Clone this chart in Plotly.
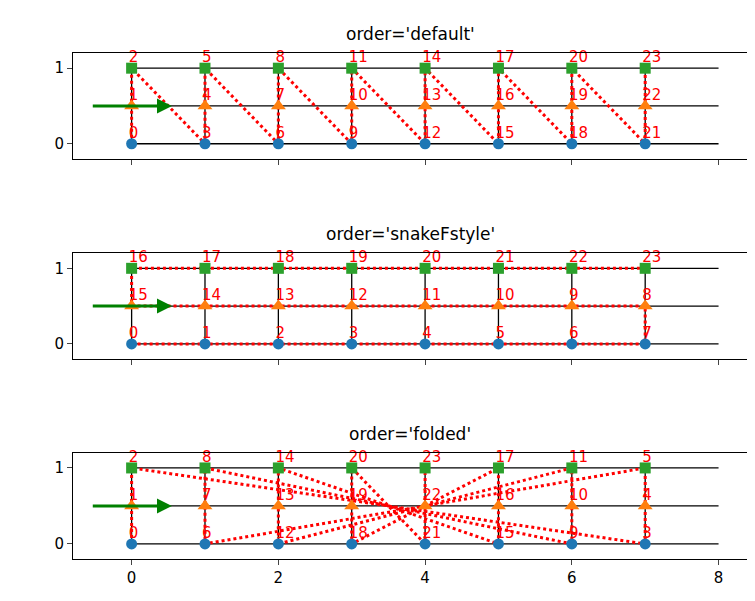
import plotly.graph_objects as go

# lattice sites: 8 columns x 3 rows
col_x = [0, 1, 2, 3, 4, 5, 6, 7]
row_y = [0, 0.5, 1]

titles = ["order='default'", "order='snakeFstyle'", "order='folded'"]

# site index for each (column, row), listed column by column, rows bottom->top
order_default = [0, 1, 2, 3, 4, 5, 6, 7, 8, 9, 10, 11, 12, 13, 14, 15, 16, 17,
                 18, 19, 20, 21, 22, 23]
order_snake = [0, 15, 16, 1, 14, 17, 2, 13, 18, 3, 12, 19, 4, 11, 20, 5, 10, 21,
               6, 9, 22, 7, 8, 23]
order_folded = [0, 1, 2, 6, 7, 8, 12, 13, 14, 18, 19, 20, 21, 22, 23, 15, 16, 17,
                9, 10, 11, 3, 4, 5]
orders = [order_default, order_snake, order_folded]

marker_styles = [("circle", "#1f77b4", 11), ("triangle-up", "#ff7f0e", 13), ("square", "#2ca02c", 11)]

domains = [(0.749, 0.925), (0.416, 0.592), (0.083, 0.260)]

fig = go.Figure()
for p, order in enumerate(orders):
    xa = "x" if p == 0 else f"x{p+1}"
    ya = "y" if p == 0 else f"y{p+1}"
    # black lattice bonds
    for y in row_y:
        fig.add_trace(go.Scatter(x=[col_x[0], 8], y=[y, y], mode="lines",
                                 line=dict(color="black", width=1.3),
                                 xaxis=xa, yaxis=ya, showlegend=False))
    for x in col_x:
        fig.add_trace(go.Scatter(x=[x, x], y=[row_y[0], row_y[-1]], mode="lines",
                                 line=dict(color="black", width=1.3),
                                 xaxis=xa, yaxis=ya, showlegend=False))
    sites = []
    for i, x in enumerate(col_x):
        for j, y in enumerate(row_y):
            sites.append((order[i * 3 + j], x, y, j))
    sites_sorted = sorted(sites)
    fig.add_trace(go.Scatter(x=[s[1] for s in sites_sorted], y=[s[2] for s in sites_sorted],
                             mode="lines", line=dict(color="red", width=3, dash="dot"),
                             xaxis=xa, yaxis=ya, showlegend=False))
    for j, (sym, col, sz) in enumerate(marker_styles):
        pts = [s for s in sites if s[3] == j]
        fig.add_trace(go.Scatter(x=[s[1] for s in pts], y=[s[2] for s in pts],
                                 mode="markers", marker=dict(symbol=sym, color=col, size=sz),
                                 xaxis=xa, yaxis=ya, showlegend=False, cliponaxis=False))
    fig.add_trace(go.Scatter(x=[s[1] - 0.04 for s in sites], y=[s[2] + 0.13 for s in sites],
                             mode="text", text=[str(s[0]) for s in sites],
                             textposition="middle right",
                             textfont=dict(color="red", size=15),
                             xaxis=xa, yaxis=ya, showlegend=False, cliponaxis=False))
    fig.add_annotation(x=0.55, y=0.5, ax=-0.55, ay=0.5, xref=xa, yref=ya,
                       axref=xa, ayref=ya, showarrow=True, arrowhead=2,
                       arrowsize=1, arrowwidth=3, arrowcolor="green", text="")
    fig.add_annotation(x=0.533, y=domains[p][1] + 0.012, xref="paper", yref="paper",
                       text=titles[p], showarrow=False, yanchor="bottom",
                       font=dict(size=17, color="black"))
    axis_common = dict(showline=True, mirror=True, linecolor="black", ticks="outside",
                       showgrid=False, zeroline=False, tickfont=dict(size=15, color="black"))
    fig.update_layout(**{
        ("xaxis" if p == 0 else f"xaxis{p+1}"): dict(domain=[0.086, 0.98], range=[-0.8, 8.4],
                                                    tickvals=[0, 2, 4, 6, 8], anchor=ya,
                                                    showticklabels=(p == 2), **axis_common),
        ("yaxis" if p == 0 else f"yaxis{p+1}"): dict(domain=list(domains[p]), range=[-0.2, 1.2],
                                                    tickvals=[0, 1], anchor=xa, **axis_common),
    })

fig.update_layout(width=755, height=601, margin=dict(l=0, r=0, t=0, b=0, pad=0),
                  plot_bgcolor="white", paper_bgcolor="white",
                  font=dict(family="DejaVu Sans"))
fig.write_html("out.html")
